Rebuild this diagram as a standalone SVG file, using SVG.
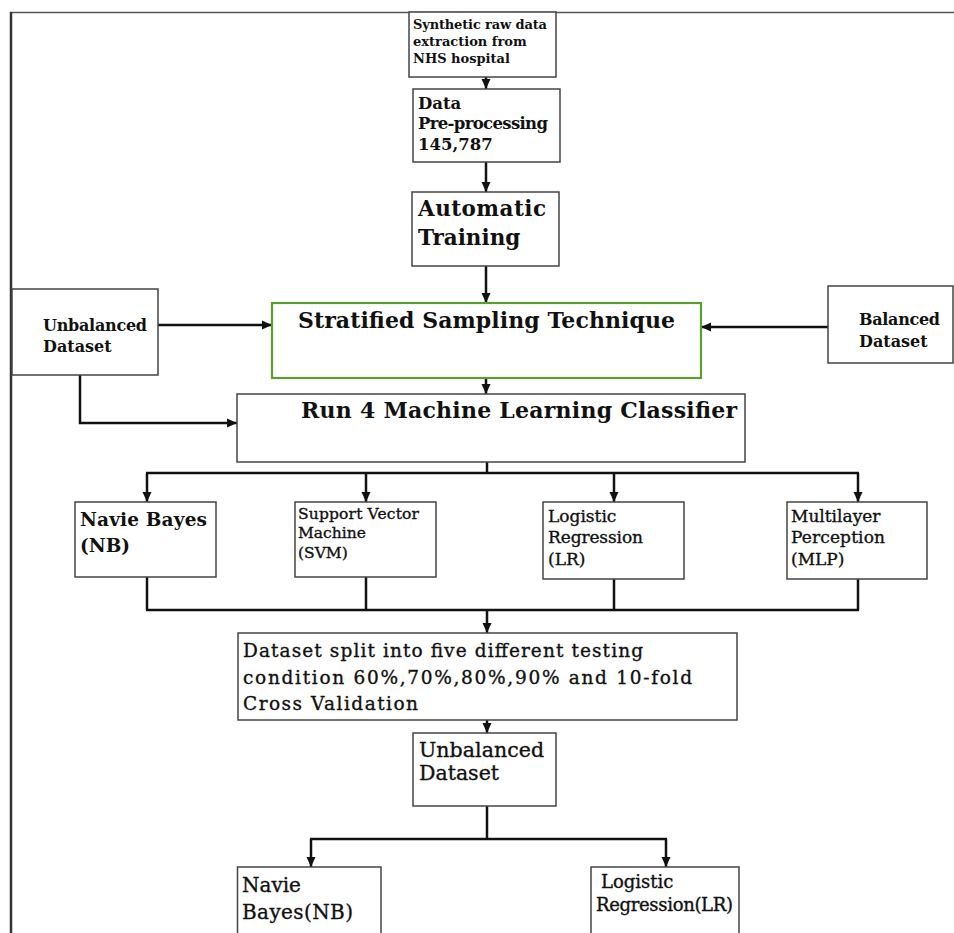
<svg xmlns="http://www.w3.org/2000/svg" width="954" height="933" viewBox="0 0 954 933">
<style>
.box{fill:#fff;stroke:#444;stroke-width:1.5}
.green{fill:#fff;stroke:#5b9e2e;stroke-width:2.2}
.t{font-family:"DejaVu Serif","Liberation Serif",serif;fill:#111}
.b{font-weight:bold}
.r{stroke:#111;stroke-width:0.35}
.c{fill:none;stroke:#111;stroke-width:2.5}
</style>
<defs>
<marker id="ah" viewBox="0 0 10 10" refX="10" refY="5" markerWidth="10" markerHeight="10" markerUnits="userSpaceOnUse" orient="auto">
<path d="M0,0.5 L10,5 L0,9.5 z" fill="#111"/>
</marker>
</defs>
<rect width="954" height="933" fill="#fff"/>
<g id="frame">
<line x1="10" y1="12.5" x2="954" y2="12.5" stroke="#555" stroke-width="1.5"/>
<line x1="11" y1="12" x2="11" y2="933" stroke="#333" stroke-width="2.5"/>
</g>
<g id="connectors">
<line class="c" x1="486" y1="77" x2="486" y2="89" marker-end="url(#ah)"/>
<line class="c" x1="486" y1="162" x2="486" y2="192" marker-end="url(#ah)"/>
<line class="c" x1="486" y1="266" x2="486" y2="303" marker-end="url(#ah)"/>
<line class="c" x1="158" y1="325" x2="272" y2="325" marker-end="url(#ah)"/>
<line class="c" x1="828" y1="327" x2="701" y2="327" marker-end="url(#ah)"/>
<line class="c" x1="486" y1="378" x2="486" y2="394" marker-end="url(#ah)"/>
<polyline class="c" points="80,375 80,423 237,423" marker-end="url(#ah)"/>
<line class="c" x1="487" y1="462" x2="487" y2="473"/>
<line class="c" x1="146" y1="473" x2="859" y2="473"/>
<line class="c" x1="147" y1="473" x2="147" y2="502" marker-end="url(#ah)"/>
<line class="c" x1="366" y1="473" x2="366" y2="502" marker-end="url(#ah)"/>
<line class="c" x1="614" y1="473" x2="614" y2="502" marker-end="url(#ah)"/>
<line class="c" x1="858" y1="473" x2="858" y2="502" marker-end="url(#ah)"/>
<line class="c" x1="147" y1="577" x2="147" y2="610"/>
<line class="c" x1="366" y1="577" x2="366" y2="610"/>
<line class="c" x1="614" y1="579" x2="614" y2="610"/>
<line class="c" x1="858" y1="579" x2="858" y2="610"/>
<line class="c" x1="146" y1="610" x2="859" y2="610"/>
<line class="c" x1="487" y1="610" x2="487" y2="633" marker-end="url(#ah)"/>
<line class="c" x1="487" y1="720" x2="487" y2="733" marker-end="url(#ah)"/>
<line class="c" x1="487" y1="806" x2="487" y2="839"/>
<line class="c" x1="310" y1="839" x2="667" y2="839"/>
<line class="c" x1="311" y1="839" x2="311" y2="867" marker-end="url(#ah)"/>
<line class="c" x1="666" y1="839" x2="666" y2="867" marker-end="url(#ah)"/>
</g>
<g id="n-extract">
<rect class="box" x="409" y="12" width="147" height="65"/>
<text class="t b" font-size="13" x="413" y="29" textLength="134" lengthAdjust="spacing">Synthetic raw data</text>
<text class="t b" font-size="13" x="413" y="46">extraction from</text>
<text class="t b" font-size="13" x="413" y="63">NHS hospital</text>
</g>
<g id="n-preproc">
<rect class="box" x="413" y="89" width="147" height="73"/>
<text class="t b" font-size="16.5" x="418" y="109">Data</text>
<text class="t b" font-size="16.5" x="418" y="128.5" textLength="130" lengthAdjust="spacing">Pre-processing</text>
<text class="t b" font-size="16.5" x="418" y="150">145,787</text>
</g>
<g id="n-training">
<rect class="box" x="412" y="192" width="147" height="74"/>
<text class="t b" font-size="21.5" x="418" y="216" textLength="128" lengthAdjust="spacing">Automatic</text>
<text class="t b" font-size="21.5" x="418" y="245">Training</text>
</g>
<g id="n-unbal">
<rect class="box" x="12" y="289" width="146" height="86"/>
<text class="t b" font-size="16" x="43" y="331" textLength="104" lengthAdjust="spacing">Unbalanced</text>
<text class="t b" font-size="16" x="43" y="352">Dataset</text>
</g>
<g id="n-strat">
<rect class="green" x="272" y="303" width="429" height="75"/>
<text class="t b" font-size="22" x="298" y="328" textLength="377" lengthAdjust="spacing">Stratified Sampling Technique</text>
</g>
<g id="n-bal">
<rect class="box" x="828" y="286" width="125" height="77"/>
<text class="t b" font-size="16" x="859" y="325" textLength="81" lengthAdjust="spacing">Balanced</text>
<text class="t b" font-size="16" x="859" y="347">Dataset</text>
</g>
<g id="n-run">
<rect class="box" x="237" y="394" width="508" height="68"/>
<text class="t b" font-size="22" x="301" y="418" textLength="436" lengthAdjust="spacing">Run 4 Machine Learning Classifier</text>
</g>
<g id="n-nb">
<rect class="box" x="75" y="502" width="141" height="75"/>
<text class="t b" font-size="18.5" x="80" y="526" textLength="127" lengthAdjust="spacing">Navie Bayes</text>
<text class="t b" font-size="18.5" x="80" y="552">(NB)</text>
</g>
<g id="n-svm">
<rect class="box" x="295" y="502" width="141" height="75"/>
<text class="t r" font-size="15.5" x="298" y="519" textLength="121" lengthAdjust="spacing">Support Vector</text>
<text class="t r" font-size="15.5" x="298" y="538">Machine</text>
<text class="t r" font-size="15.5" x="298" y="558">(SVM)</text>
</g>
<g id="n-lr">
<rect class="box" x="543" y="502" width="141" height="77"/>
<text class="t r" font-size="17" x="548" y="522">Logistic</text>
<text class="t r" font-size="17" x="548" y="543" textLength="95" lengthAdjust="spacing">Regression</text>
<text class="t r" font-size="17" x="548" y="565">(LR)</text>
</g>
<g id="n-mlp">
<rect class="box" x="787" y="502" width="140" height="77"/>
<text class="t r" font-size="17" x="791" y="522">Multilayer</text>
<text class="t r" font-size="17" x="791" y="543" textLength="94" lengthAdjust="spacing">Perception</text>
<text class="t r" font-size="17" x="791" y="565">(MLP)</text>
</g>
<g id="n-split">
<rect class="box" x="238" y="633" width="499" height="87"/>
<text class="t r" font-size="18.5" x="243" y="657" textLength="400" lengthAdjust="spacing">Dataset split into five different testing</text>
<text class="t r" font-size="18.5" x="243" y="684" textLength="449" lengthAdjust="spacing">condition 60%,70%,80%,90% and 10-fold</text>
<text class="t r" font-size="18.5" x="243" y="710" textLength="175" lengthAdjust="spacing">Cross Validation</text>
</g>
<g id="n-unbal2">
<rect class="box" x="413" y="733" width="143" height="73"/>
<text class="t r" font-size="20.5" x="419" y="757" textLength="125" lengthAdjust="spacing">Unbalanced</text>
<text class="t r" font-size="20.5" x="419" y="780">Dataset</text>
</g>
<g id="n-nb2">
<rect class="box" x="237.5" y="867" width="143.5" height="80"/>
<text class="t r" font-size="20" x="242" y="892">Navie</text>
<text class="t r" font-size="20" x="242" y="919" textLength="111" lengthAdjust="spacing">Bayes(NB)</text>
</g>
<g id="n-lr2">
<rect class="box" x="591" y="867" width="148" height="80"/>
<text class="t r" font-size="18" x="601" y="888">Logistic</text>
<text class="t r" font-size="18" x="596" y="911" textLength="137" lengthAdjust="spacing">Regression(LR)</text>
</g>
</svg>
